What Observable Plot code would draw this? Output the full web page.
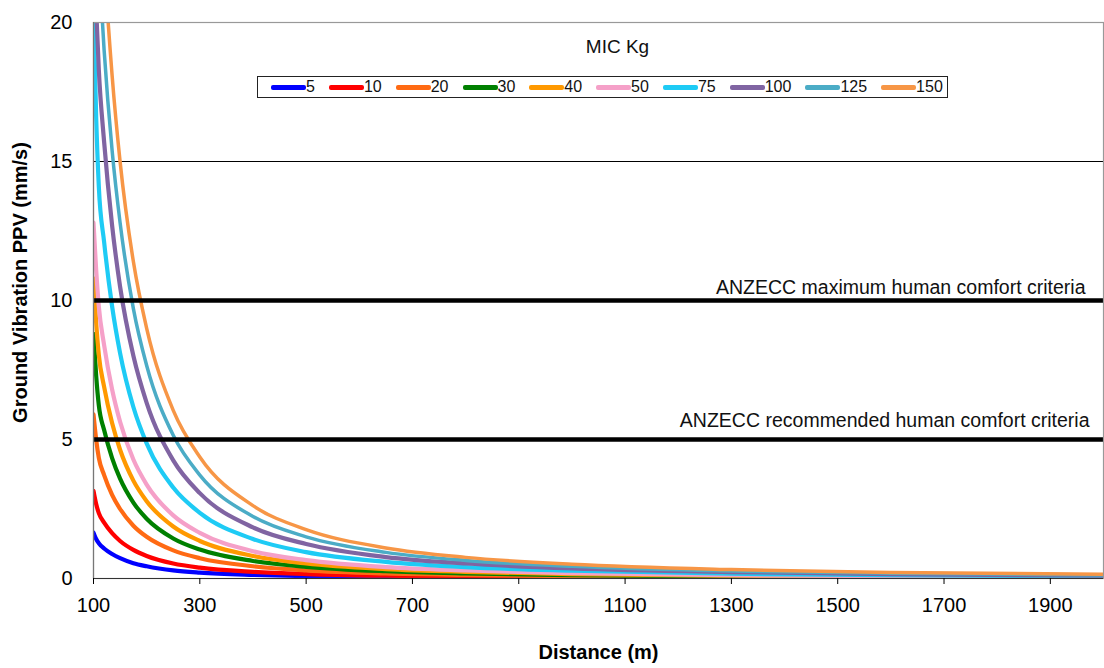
<!DOCTYPE html>
<html>
<head>
<meta charset="utf-8">
<script src="https://cdn.jsdelivr.net/npm/d3@7"></script>
<script src="https://cdn.jsdelivr.net/npm/@observablehq/plot@0.6"></script>
<style>
  body { margin: 0; background: #fff; font-family: "Liberation Sans", Arial, sans-serif; }
  #wrap { position: relative; width: 1104px; height: 668px; }
  #legend { position: absolute; left: 257px; top: 76px; width: 691px; height: 22px;
            border: 1px solid #222; display: flex; align-items: center; font-size: 16px;
            padding-left: 13px; box-sizing: border-box; color: #111; }
  .item { display: flex; align-items: center; margin-right: 14px; }
  .sw { width: 35px; height: 5px; border-radius: 2px; }
</style>
</head>
<body>
<div id="wrap"><div id="legend"></div></div>
<script>
// Distance (m)
const distances = [100, 105, 110, 120, 135, 150, 175, 200, 250, 300, 400, 500, 650, 800, 1000, 1300, 1600, 2000];
// MIC (kg) series
const mic = [5, 10, 20, 30, 40, 50, 75, 100, 125, 150];
// PPV (mm/s), one array per MIC
const ppv5   = [1.65, 1.42, 1.27, 1.08, 0.88, 0.73, 0.55, 0.44, 0.29, 0.21, 0.13, 0.086, 0.054, 0.037, 0.025, 0.016, 0.011, 0.007];
const ppv10  = [3.15, 2.68, 2.35, 2.01, 1.63, 1.35, 1.03, 0.81, 0.54, 0.39, 0.24, 0.16, 0.099, 0.069, 0.046, 0.029, 0.020, 0.013];
const ppv20  = [5.9, 5.0, 4.34, 3.72, 3.01, 2.50, 1.90, 1.50, 1.01, 0.73, 0.44, 0.29, 0.18, 0.13, 0.085, 0.053, 0.037, 0.025];
const ppv30  = [8.8, 7.3, 6.23, 5.34, 4.33, 3.59, 2.73, 2.15, 1.44, 1.04, 0.63, 0.42, 0.26, 0.18, 0.12, 0.077, 0.053, 0.036];
const ppv40  = [10.8, 9.2, 8.04, 6.89, 5.59, 4.63, 3.52, 2.78, 1.87, 1.35, 0.81, 0.54, 0.34, 0.24, 0.16, 0.099, 0.069, 0.046];
const ppv50  = [12.8, 11.1, 9.79, 8.39, 6.80, 5.64, 4.28, 3.38, 2.27, 1.64, 0.98, 0.66, 0.41, 0.29, 0.19, 0.12, 0.084, 0.056];
const ppv75  = [20.5, 16.6, 14.1, 12.1, 9.79, 8.11, 6.17, 4.86, 3.27, 2.36, 1.42, 0.95, 0.60, 0.41, 0.28, 0.17, 0.12, 0.081];
const ppv100 = [23.5, 20.5, 18.3, 15.7, 12.7, 10.5, 8.01, 6.32, 4.25, 3.07, 1.84, 1.24, 0.77, 0.54, 0.36, 0.23, 0.16, 0.10];
const ppv125 = [26.3, 24.1, 22.2, 19.0, 15.4, 12.8, 9.71, 7.66, 5.15, 3.72, 2.23, 1.50, 0.94, 0.65, 0.44, 0.27, 0.19, 0.13];
const ppv150 = [30.9, 28.3, 26.1, 22.3, 18.1, 15.0, 11.4, 9.00, 6.05, 4.37, 2.62, 1.76, 1.10, 0.76, 0.51, 0.32, 0.22, 0.15];
const series = [ppv5, ppv10, ppv20, ppv30, ppv40, ppv50, ppv75, ppv100, ppv125, ppv150];
const colors = ["#0000FF", "#FF0000", "#FF6A13", "#008000", "#FF9900", "#F5A0C8", "#1ECBF5", "#8064A2", "#4BACC6", "#F79646"];

const xTicks = [100, 300, 500, 700, 900, 1100, 1300, 1500, 1700, 1900];
const yTicks = [0, 5, 10, 15, 20];
const gridLevels = [15];
const criteriaLevels = [10, 5];
const criteriaLabels = ["ANZECC maximum human comfort criteria", "ANZECC recommended human comfort criteria"];
const legendTitle = "MIC Kg";
const xLabel = "Distance (m)";
const yLabel = "Ground Vibration PPV (mm/s)";

const rows = mic.flatMap((q, i) => distances.map((d, j) => ({q, d, v: series[i][j]})));

const font = '"Liberation Sans", Arial, sans-serif';

const plot = Plot.plot({
  width: 1104, height: 668,
  marginLeft: 93, marginRight: 1, marginTop: 22, marginBottom: 90,
  style: {fontFamily: font, fontSize: "20px", color: "#000", background: "transparent"},
  x: {domain: [100, 2000]},
  y: {domain: [0, 20]},
  marks: [
    Plot.ruleY(gridLevels, {stroke: "#000", strokeWidth: 1}),
    ...mic.map((q, i) => Plot.line(rows.filter(r => r.q === q), {
      x: "d", y: "v", stroke: colors[i], strokeWidth: i >= 8 ? 3.5 : 4.2,
      curve: "monotone-x", clip: true
    })),
    Plot.ruleY(criteriaLevels, {stroke: "#000", strokeWidth: 4.5}),
    Plot.frame({stroke: "#999", strokeWidth: 1.2}),
    Plot.ruleY([0], {stroke: "#333", strokeWidth: 1.2}),
    Plot.ruleX([100], {stroke: "#777", strokeWidth: 1.2}),
    Plot.axisX({ticks: xTicks, tickSize: 6, tickPadding: 13, fontSize: 20, label: null, tickFormat: d => String(d)}),
    Plot.axisY({ticks: yTicks, tickSize: 0, tickPadding: 21, fontSize: 20, label: null}),
    Plot.text([criteriaLabels[0]], {x: 2000, y: criteriaLevels[0], text: d => d, textAnchor: "end", lineAnchor: "bottom",
      dx: -18, dy: -7, fontSize: 19.5, fill: "#111"}),
    Plot.text([criteriaLabels[1]], {x: 2000, y: criteriaLevels[1], text: d => d, textAnchor: "end", lineAnchor: "bottom",
      dx: -14, dy: -13, fontSize: 19.5, fill: "#111"}),
    Plot.text([legendTitle], {frameAnchor: "top", text: d => d, textAnchor: "middle", lineAnchor: "bottom",
      dx: 19, dy: 30, fontSize: 19, fill: "#111"}),
    Plot.text([xLabel], {frameAnchor: "bottom", text: d => d, textAnchor: "middle", lineAnchor: "middle",
      dy: 74, fontSize: 20, fontWeight: "bold"}),
    Plot.text([yLabel], {frameAnchor: "left", text: d => d, textAnchor: "middle", lineAnchor: "middle",
      rotate: -90, dx: -73, dy: -18, fontSize: 20, fontWeight: "bold"})
  ]
});
document.getElementById("wrap").prepend(plot);

const legend = document.getElementById("legend");
mic.forEach((q, i) => {
  const item = document.createElement("div");
  item.className = "item";
  const sw = document.createElement("div");
  sw.className = "sw";
  sw.style.background = colors[i];
  const lab = document.createElement("span");
  lab.textContent = String(q);
  item.appendChild(sw);
  item.appendChild(lab);
  legend.appendChild(item);
});
</script>
</body>
</html>
